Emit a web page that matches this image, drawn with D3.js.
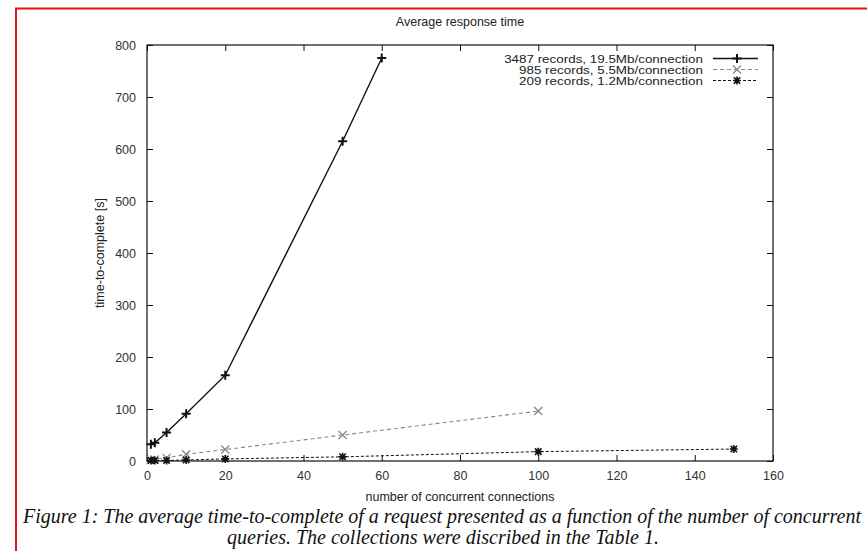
<!DOCTYPE html>
<html>
<head>
<meta charset="utf-8">
<script src="https://cdn.jsdelivr.net/npm/d3@7"></script>
<style>
  body { margin: 0; background: #fff; }
  svg { display: block; }
</style>
</head>
<body>
<div id="chart"></div>
<script>
// data
const xTicks = [0, 20, 40, 60, 80, 100, 120, 140, 160];
const yTicks = [0, 100, 200, 300, 400, 500, 600, 700, 800];

const bigX = [1, 2, 5, 10, 20, 50, 60];
const bigY = [32, 35, 55, 91, 165, 615, 775];

const midX = [1, 2, 5, 10, 20, 50, 100];
const midY = [2, 3, 6, 13, 22, 50, 96];

const smallX = [1, 2, 5, 10, 20, 50, 100, 150];
const smallY = [1, 1, 1, 2, 4, 8, 18, 23];

const seriesNames = [
  '3487 records, 19.5Mb/connection',
  '985 records, 5.5Mb/connection',
  '209 records, 1.2Mb/connection'
];

const W = 867, H = 551;
const margin = { left: 147, right: 94, top: 45, bottom: 90 };

const svg = d3.select('#chart').append('svg')
  .attr('width', W)
  .attr('height', H);

// red frame (top + left edge visible)
svg.append('path')
  .attr('d', 'M16,' + H + 'V8.5H' + W)
  .attr('fill', 'none')
  .attr('stroke', '#ee1111')
  .attr('stroke-width', 2);

const x = d3.scaleLinear().domain([0, 160]).range([margin.left, W - margin.right]);
const y = d3.scaleLinear().domain([0, 800]).range([H - margin.bottom, margin.top]);

const font = 'Liberation Sans, Arial, sans-serif';

// mirrored inward ticks on all sides
svg.append('g')
  .attr('transform', `translate(0,${y(0)})`)
  .call(d3.axisBottom(x).tickValues(xTicks).tickSize(-6).tickPadding(10))
  .call(g => g.select('.domain').remove());
svg.append('g')
  .attr('transform', `translate(0,${y(800)})`)
  .call(d3.axisTop(x).tickValues(xTicks).tickSize(-6).tickFormat(''))
  .call(g => g.select('.domain').remove());
svg.append('g')
  .attr('transform', `translate(${x(0)},0)`)
  .call(d3.axisLeft(y).tickValues(yTicks).tickSize(-6).tickPadding(11))
  .call(g => g.select('.domain').remove());
svg.append('g')
  .attr('transform', `translate(${x(160)},0)`)
  .call(d3.axisRight(y).tickValues(yTicks).tickSize(-6).tickFormat(''))
  .call(g => g.select('.domain').remove());

svg.selectAll('.tick line').attr('stroke', '#111');
svg.selectAll('.tick text')
  .style('font-family', font)
  .style('font-size', '12.5px')
  .attr('fill', '#333');

// plot border
svg.append('rect')
  .attr('x', x(0)).attr('y', y(800))
  .attr('width', x(160) - x(0)).attr('height', y(0) - y(800))
  .attr('fill', 'none').attr('stroke', '#111').attr('stroke-width', 1.2);

// titles
svg.append('text')
  .attr('x', 460).attr('y', 26)
  .attr('text-anchor', 'middle')
  .style('font-family', font).style('font-size', '12.5px')
  .attr('fill', '#222')
  .text('Average response time');

svg.append('text')
  .attr('x', 460).attr('y', 501)
  .attr('text-anchor', 'middle')
  .style('font-family', font).style('font-size', '12.5px')
  .attr('fill', '#222')
  .text('number of concurrent connections');

svg.append('text')
  .attr('transform', `translate(104,${(y(0) + y(800)) / 2}) rotate(-90)`)
  .attr('text-anchor', 'middle')
  .style('font-family', font).style('font-size', '12.5px')
  .attr('fill', '#222')
  .text('time-to-complete [s]');

// markers
function plus(s) { return `M${-s},0H${s}M0,${-s}V${s}`; }
function cross(s) { return `M${-s},${-s}L${s},${s}M${-s},${s}L${s},${-s}`; }
function star(s) { return plus(s) + cross(s * 0.8); }

const series = [
  { xs: bigX, ys: bigY, color: '#111', dash: null, width: 1.4, mark: plus(4.5), mw: 2 },
  { xs: midX, ys: midY, color: '#888', dash: '4,3', width: 1.1, mark: cross(4), mw: 1.3 },
  { xs: smallX, ys: smallY, color: '#111', dash: '3,2', width: 1, mark: star(4), mw: 1.6 }
];

const line = d3.line().x(d => x(d[0])).y(d => y(d[1]));

series.forEach((s, i) => {
  const pts = s.xs.map((v, j) => [v, s.ys[j]]);
  svg.append('path')
    .datum(pts)
    .attr('fill', 'none')
    .attr('stroke', s.color)
    .attr('stroke-width', s.width)
    .attr('stroke-dasharray', s.dash)
    .attr('d', line);

  svg.append('g').selectAll('path')
    .data(pts)
    .enter()
    .append('path')
    .attr('transform', d => `translate(${x(d[0])},${y(d[1])})`)
    .attr('d', s.mark)
    .attr('stroke', s.color)
    .attr('stroke-width', s.mw)
    .attr('fill', 'none');

  // legend (text in the original is wide, so stretch it a little)
  const ly = 58.5 + i * 11;
  svg.append('text')
    .attr('transform', `translate(703,${ly + 4}) scale(1.22,1)`)
    .attr('text-anchor', 'end')
    .style('font-family', font).style('font-size', '11px')
    .attr('fill', '#222')
    .text(seriesNames[i]);
  svg.append('line')
    .attr('x1', 713).attr('x2', 758)
    .attr('y1', ly).attr('y2', ly)
    .attr('stroke', s.color)
    .attr('stroke-width', s.width)
    .attr('stroke-dasharray', s.dash);
  svg.append('path')
    .attr('transform', `translate(737,${ly})`)
    .attr('d', s.mark)
    .attr('stroke', s.color)
    .attr('stroke-width', s.mw)
    .attr('fill', 'none');
});

// caption
svg.append('text')
  .attr('x', 442).attr('y', 523)
  .attr('text-anchor', 'middle')
  .style('font-family', 'Liberation Serif, Times New Roman, serif')
  .style('font-style', 'italic')
  .style('font-size', '20px')
  .attr('fill', '#111')
  .text('Figure 1: The average time-to-complete of a request presented as a function of the number of concurrent');
svg.append('text')
  .attr('x', 443).attr('y', 544)
  .attr('text-anchor', 'middle')
  .style('font-family', 'Liberation Serif, Times New Roman, serif')
  .style('font-style', 'italic')
  .style('font-size', '20px')
  .attr('fill', '#111')
  .text('queries. The collections were discribed in the Table 1.');
</script>
</body>
</html>
